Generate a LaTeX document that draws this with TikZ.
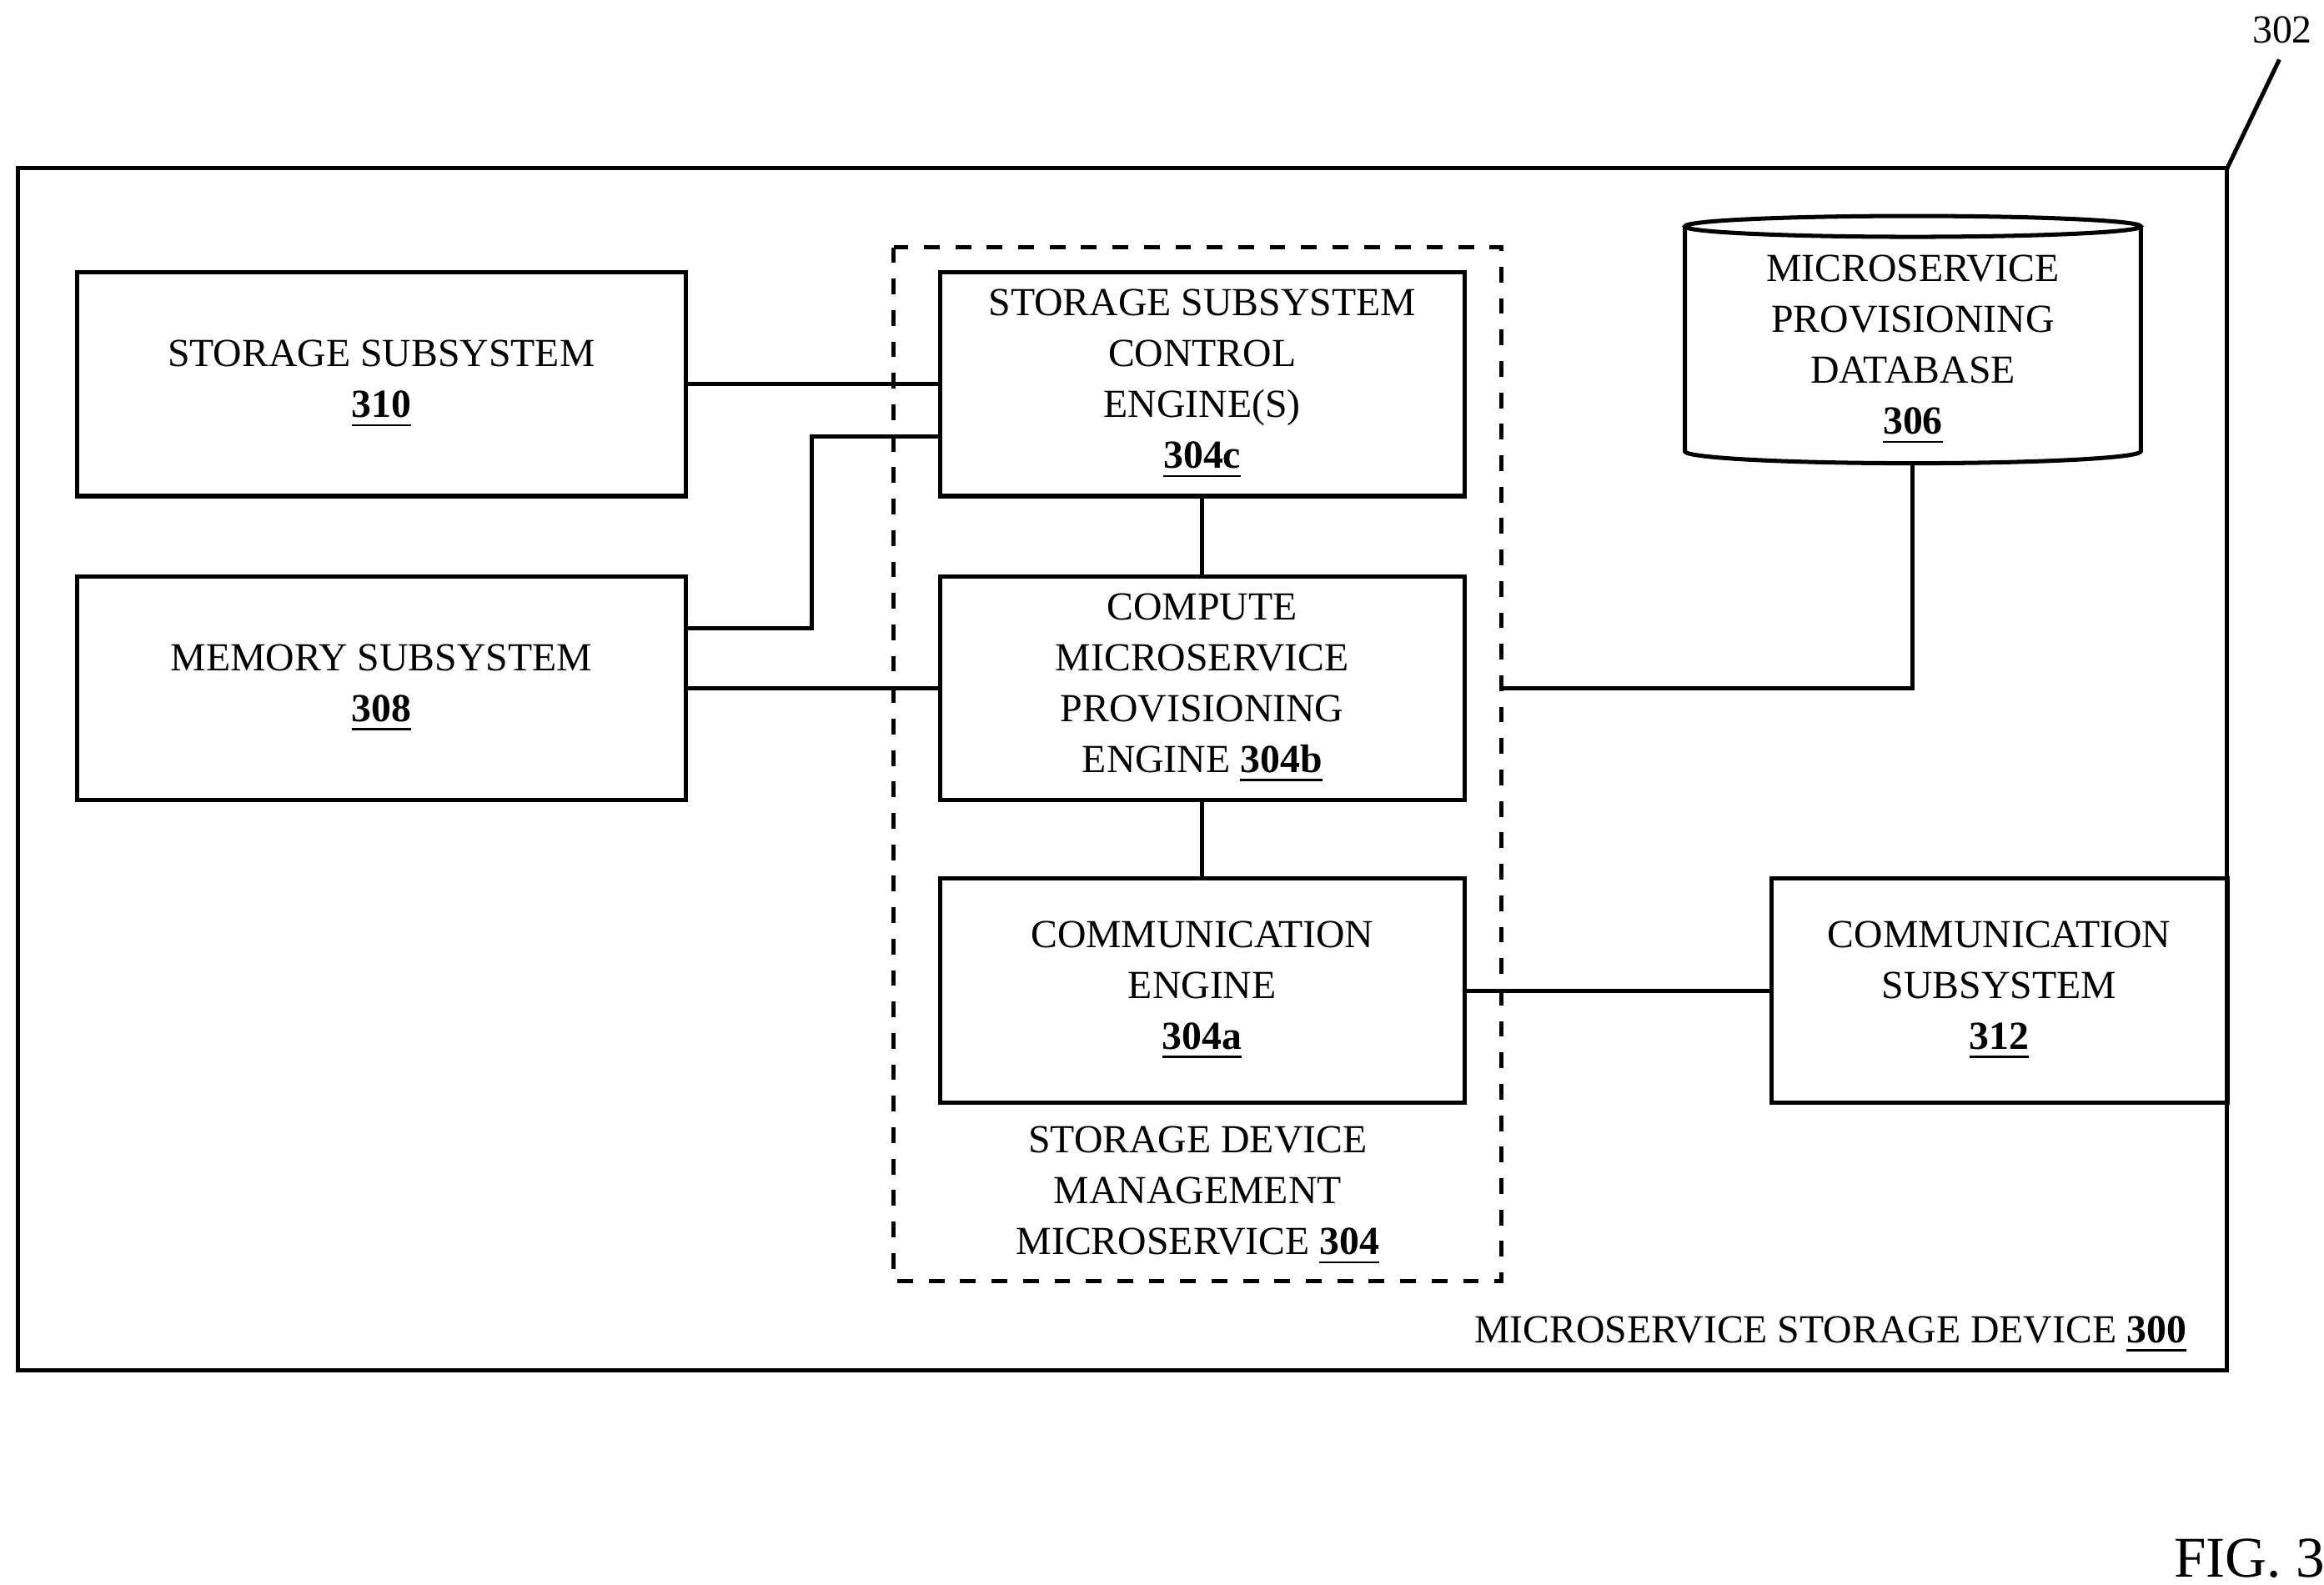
\documentclass[tikz,border=0pt]{standalone}
\usepackage{fontspec}
\setmainfont{Liberation Serif}
\usetikzlibrary{positioning,calc}
\newcommand{\refnum}[1]{\underline{\textbf{#1}}}
\tikzset{
  blk/.style={draw,thick,align=center,inner sep=0pt,font=\fontsize{7.6}{9.7}\selectfont},
  lbl/.style={align=center,font=\fontsize{7.6}{9.7}\selectfont},
  wire/.style={thick}
}
\begin{document}
\begin{tikzpicture}[x=0.01cm,y=-0.01cm]
	\useasboundingbox (0,0) rectangle (1560,1064);
	% outer device
	\draw[thick] (12,113) rectangle (1495,920);
	\coordinate (corner) at (1495,113);
	\node[lbl] (ref302) at (1532,20) {302};
	\draw[thick] (corner) -- (1530,40);
	\node[lbl,anchor=east] (dev) at (1480,896) {MICROSERVICE STORAGE DEVICE \refnum{300}};
	% microservice
	\draw[thick,dashed] (600,166) rectangle (1008,860);
	\node[lbl] (sdm) at (804,803) {STORAGE DEVICE\\MANAGEMENT\\MICROSERVICE \refnum{304}};
	\node[blk,minimum width=3.52cm,minimum height=1.5cm] (ctl) at (807,258) {STORAGE SUBSYSTEM\\CONTROL\\ENGINE(S)\\\refnum{304c}};
	\node[blk,minimum width=3.52cm,minimum height=1.5cm] (cmp) at (807,462) {COMPUTE\\MICROSERVICE\\PROVISIONING\\ENGINE \refnum{304b}};
	\node[blk,minimum width=3.52cm,minimum height=1.5cm] (com) at (807,665) {COMMUNICATION\\ENGINE\\\refnum{304a}};
	% subsystems
	\node[blk,minimum width=4.08cm,minimum height=1.5cm] (sto) at (256,258) {STORAGE SUBSYSTEM\\\refnum{310}};
	\node[blk,minimum width=4.08cm,minimum height=1.5cm] (mem) at (256,462) {MEMORY SUBSYSTEM\\\refnum{308}};
	\node[blk,minimum width=3.06cm,minimum height=1.5cm] (csub) at (1342,665) {COMMUNICATION\\SUBSYSTEM\\\refnum{312}};
	% database
	\draw[thick,fill=white] (1131,152) -- (1131,303) arc[start angle=180,end angle=360,x radius=153,y radius=-8] -- (1437,152);
	\draw[thick] (1284,152) ellipse[x radius=153,y radius=7];
	\node[lbl] (db) at (1284,235) {MICROSERVICE\\PROVISIONING\\DATABASE\\\refnum{306}};
	\coordinate (dbb) at (1284,311);
	% connectors
	\draw[wire] (sto.east) -- (ctl.west);
	\draw[wire] ($(mem.east)+(0,-40)$) -- (545,422) |- ($(ctl.west)+(0,35)$);
	\draw[wire] (mem.east) -- (cmp.west);
	\draw[wire] (ctl) -- (cmp);
	\draw[wire] (cmp) -- (com);
	\draw[wire] (1008,462) -| (dbb);
	\draw[wire] (com.east) -- (csub.west);
	\node[font=\fontsize{11}{13}\selectfont] (fig) at (1510,1046) {FIG. 3};
\end{tikzpicture}
\end{document}
